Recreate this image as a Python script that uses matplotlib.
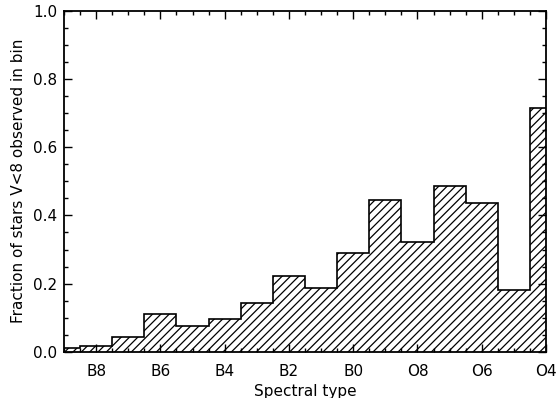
import numpy as np
import matplotlib
matplotlib.use('Agg')
import matplotlib.pyplot as plt
from matplotlib.ticker import MultipleLocator, FormatStrFormatter

plt.rcParams['font.family'] = ['DejaVu Sans']
plt.rcParams['hatch.linewidth'] = 0.9

# spectral subtype index: B9=19 ... B0=10, O9=9 ... O4=4
spec_num = [19, 18, 17, 16, 15, 14, 13, 12, 11, 10, 9, 8, 7, 6, 5, 4]
fraction = [0.012, 0.019, 0.044, 0.112, 0.077, 0.097, 0.143, 0.222,
            0.186, 0.291, 0.446, 0.323, 0.486, 0.436, 0.181, 0.714]

tick_pos = [18, 16, 14, 12, 10, 8, 6, 4]
tick_lab = ['B8', 'B6', 'B4', 'B2', 'B0', 'O8', 'O6', 'O4']

edges = [s + 0.5 for s in spec_num] + [spec_num[-1] - 0.5]

fig = plt.figure(figsize=(5.56, 3.98), dpi=100)
ax = fig.add_axes([0.1151, 0.1156, 0.8669, 0.858])

ax.stairs(fraction, edges, baseline=0, fill=True, hatch='////',
          facecolor='none', edgecolor='black', linewidth=1.2)

ax.set_xlim(19, 4)
ax.set_ylim(0, 1.0)
ax.set_xticks(tick_pos)
ax.set_xticklabels(tick_lab)
ax.xaxis.set_minor_locator(MultipleLocator(0.5))
ax.yaxis.set_major_locator(MultipleLocator(0.2))
ax.yaxis.set_minor_locator(MultipleLocator(0.05))
ax.yaxis.set_major_formatter(FormatStrFormatter('%.1f'))

ax.tick_params(which='both', direction='in', top=True, right=True,
               width=1.0, labelsize=11)
ax.tick_params(which='major', length=6)
ax.tick_params(which='minor', length=3)
ax.tick_params(axis='x', pad=9)
ax.tick_params(axis='y', pad=5)
for sp in ax.spines.values():
    sp.set_linewidth(1.3)

ax.set_xlabel('Spectral type', fontsize=11, labelpad=3)
ax.set_ylabel('Fraction of stars V<8 observed in bin', fontsize=11, labelpad=5)

fig.savefig('out.png', dpi=100)
